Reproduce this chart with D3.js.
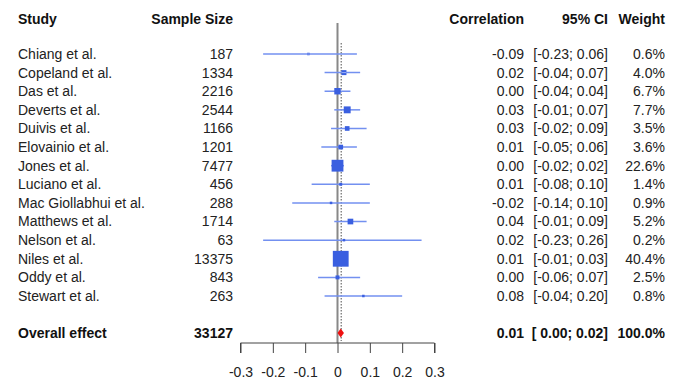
<!DOCTYPE html>
<html>
<head>
<meta charset="utf-8">
<script src="https://cdn.jsdelivr.net/npm/d3@7"></script>
<style>
  body { margin: 0; background: #fff; }
  text { font-family: "Liberation Sans", Arial, sans-serif; font-size: 14px; fill: #222; }
  .bold { font-weight: bold; fill: #111; }
</style>
</head>
<body>
<svg id="chart" width="683" height="381"></svg>
<script>
// study data
const studies = ["Chiang et al.", "Copeland et al.", "Das et al.", "Deverts et al.", "Duivis et al.",
  "Elovainio et al.", "Jones et al.", "Luciano et al.", "Mac Giollabhui et al.", "Matthews et al.",
  "Nelson et al.", "Niles et al.", "Oddy et al.", "Stewart et al."];
const sampleSize = [187, 1334, 2216, 2544, 1166, 1201, 7477, 456, 288, 1714, 63, 13375, 843, 263];
const corr = [-0.09, 0.02, 0.00, 0.03, 0.03, 0.01, 0.00, 0.01, -0.02, 0.04, 0.02, 0.01, 0.00, 0.08];
const ciLow = [-0.23, -0.04, -0.04, -0.01, -0.02, -0.05, -0.02, -0.08, -0.14, -0.01, -0.23, -0.01, -0.06, -0.04];
const ciHigh = [0.06, 0.07, 0.04, 0.07, 0.09, 0.06, 0.02, 0.10, 0.10, 0.09, 0.26, 0.03, 0.07, 0.20];
const weight = [0.6, 4.0, 6.7, 7.7, 3.5, 3.6, 22.6, 1.4, 0.9, 5.2, 0.2, 40.4, 2.5, 0.8];

// overall effect
const overall = { label: "Overall effect", n: 33127, est: 0.01, lo: 0.00, hi: 0.02, w: 100.0 };
const xTicks = [-0.3, -0.2, -0.1, 0, 0.1, 0.2, 0.3];

const svg = d3.select("#chart");

const x = d3.scaleLinear().domain([-0.3, 0.3]).range([240.5, 434.5]);
const y = d3.scaleLinear().domain([0, studies.length - 1]).range([54, 296]);
const overallY = 333, headerY = 19, axisY = 343;
// box side grows with sqrt of weight
const boxSize = d3.scaleSqrt().domain([0, 40.4]).range([0, 15.8]);
const side = i => Math.max(boxSize(weight[i]), 2.5);

// plain hyphen minus like the original
const fmt2 = v => v.toFixed(2);

// headers
const headers = [
  { t: "Study", x: 18, a: "start" },
  { t: "Sample Size", x: 233, a: "end" },
  { t: "Correlation", x: 524, a: "end" },
  { t: "95% CI", x: 608, a: "end" },
  { t: "Weight", x: 665, a: "end" }
];
svg.selectAll("text.head").data(headers).enter().append("text")
  .attr("class", "head bold")
  .attr("x", d => d.x).attr("y", headerY).attr("dy", "0.35em")
  .attr("text-anchor", d => d.a).text(d => d.t);

// reference lines
svg.append("line")
  .attr("x1", x(0)).attr("x2", x(0)).attr("y1", 23).attr("y2", axisY)
  .attr("stroke", "#888").attr("stroke-width", 2);
svg.append("line")
  .attr("x1", x(overall.est) + 0.5).attr("x2", x(overall.est) + 0.5).attr("y1", 43).attr("y2", axisY - 2)
  .attr("stroke", "#777").attr("stroke-width", 1.3).attr("stroke-dasharray", "1.5,1.5");

// rows
const rows = svg.selectAll("g.row").data(studies).enter().append("g").attr("class", "row");

rows.append("line")
  .attr("x1", (d, i) => x(ciLow[i])).attr("x2", (d, i) => x(ciHigh[i]))
  .attr("y1", (d, i) => y(i)).attr("y2", (d, i) => y(i))
  .attr("stroke", "#7390f0").attr("stroke-width", 1.5);

rows.append("rect")
  .attr("x", (d, i) => x(corr[i]) - side(i) / 2)
  .attr("y", (d, i) => y(i) - side(i) / 2)
  .attr("width", (d, i) => side(i))
  .attr("height", (d, i) => side(i))
  .attr("fill", "#3a5fe0");

// CI line visible through large boxes
rows.filter((d, i) => side(i) > 10).append("line")
  .attr("x1", (d, i) => x(corr[i]) - side(i) / 2).attr("x2", (d, i) => x(corr[i]) + side(i) / 2)
  .attr("y1", (d, i) => y(i)).attr("y2", (d, i) => y(i))
  .attr("stroke", "#9fb3f6").attr("stroke-width", 1);

rows.append("text").attr("x", 18).attr("y", (d, i) => y(i)).attr("dy", "0.35em").text(d => d);
rows.append("text").attr("x", 233).attr("y", (d, i) => y(i)).attr("dy", "0.35em")
  .attr("text-anchor", "end").text((d, i) => sampleSize[i]);
rows.append("text").attr("x", 524).attr("y", (d, i) => y(i)).attr("dy", "0.35em")
  .attr("text-anchor", "end").text((d, i) => fmt2(corr[i]));
rows.append("text").attr("x", 608).attr("y", (d, i) => y(i)).attr("dy", "0.35em")
  .attr("text-anchor", "end").text((d, i) => "[" + fmt2(ciLow[i]) + "; " + fmt2(ciHigh[i]) + "]");
rows.append("text").attr("x", 665).attr("y", (d, i) => y(i)).attr("dy", "0.35em")
  .attr("text-anchor", "end").text((d, i) => weight[i].toFixed(1) + "%");

// overall row
const dh = 4.5;
svg.append("path")
  .attr("d", `M${x(overall.lo)},${overallY} L${x(overall.est)},${overallY - dh} L${x(overall.hi)},${overallY} L${x(overall.est)},${overallY + dh} Z`)
  .attr("fill", "#ee1111");
const ov = [
  { t: overall.label, x: 18, a: "start" },
  { t: overall.n, x: 233, a: "end" },
  { t: fmt2(overall.est), x: 524, a: "end" },
  { t: "[ " + fmt2(overall.lo) + "; " + fmt2(overall.hi) + "]", x: 608, a: "end" },
  { t: overall.w.toFixed(1) + "%", x: 665, a: "end" }
];
svg.selectAll("text.ov").data(ov).enter().append("text")
  .attr("class", "ov bold")
  .attr("x", d => d.x).attr("y", overallY).attr("dy", "0.35em")
  .attr("text-anchor", d => d.a).text(d => d.t);

// axis
const axis = d3.axisBottom(x).tickValues(xTicks).tickSize(10).tickPadding(14)
  .tickFormat(d => d === 0 ? "0" : d.toFixed(1));
const ax = svg.append("g").attr("transform", `translate(0,${axisY})`).call(axis);
ax.select(".domain").attr("stroke", "#444").attr("d", `M${x(-0.3)},10V0H${x(0.3)}V10`);
ax.selectAll(".tick line").attr("stroke", "#444");
ax.selectAll(".tick text").style("font-size", "14px").attr("fill", "#222")
  .style("font-family", "'Liberation Sans', Arial, sans-serif");
</script>
</body>
</html>
